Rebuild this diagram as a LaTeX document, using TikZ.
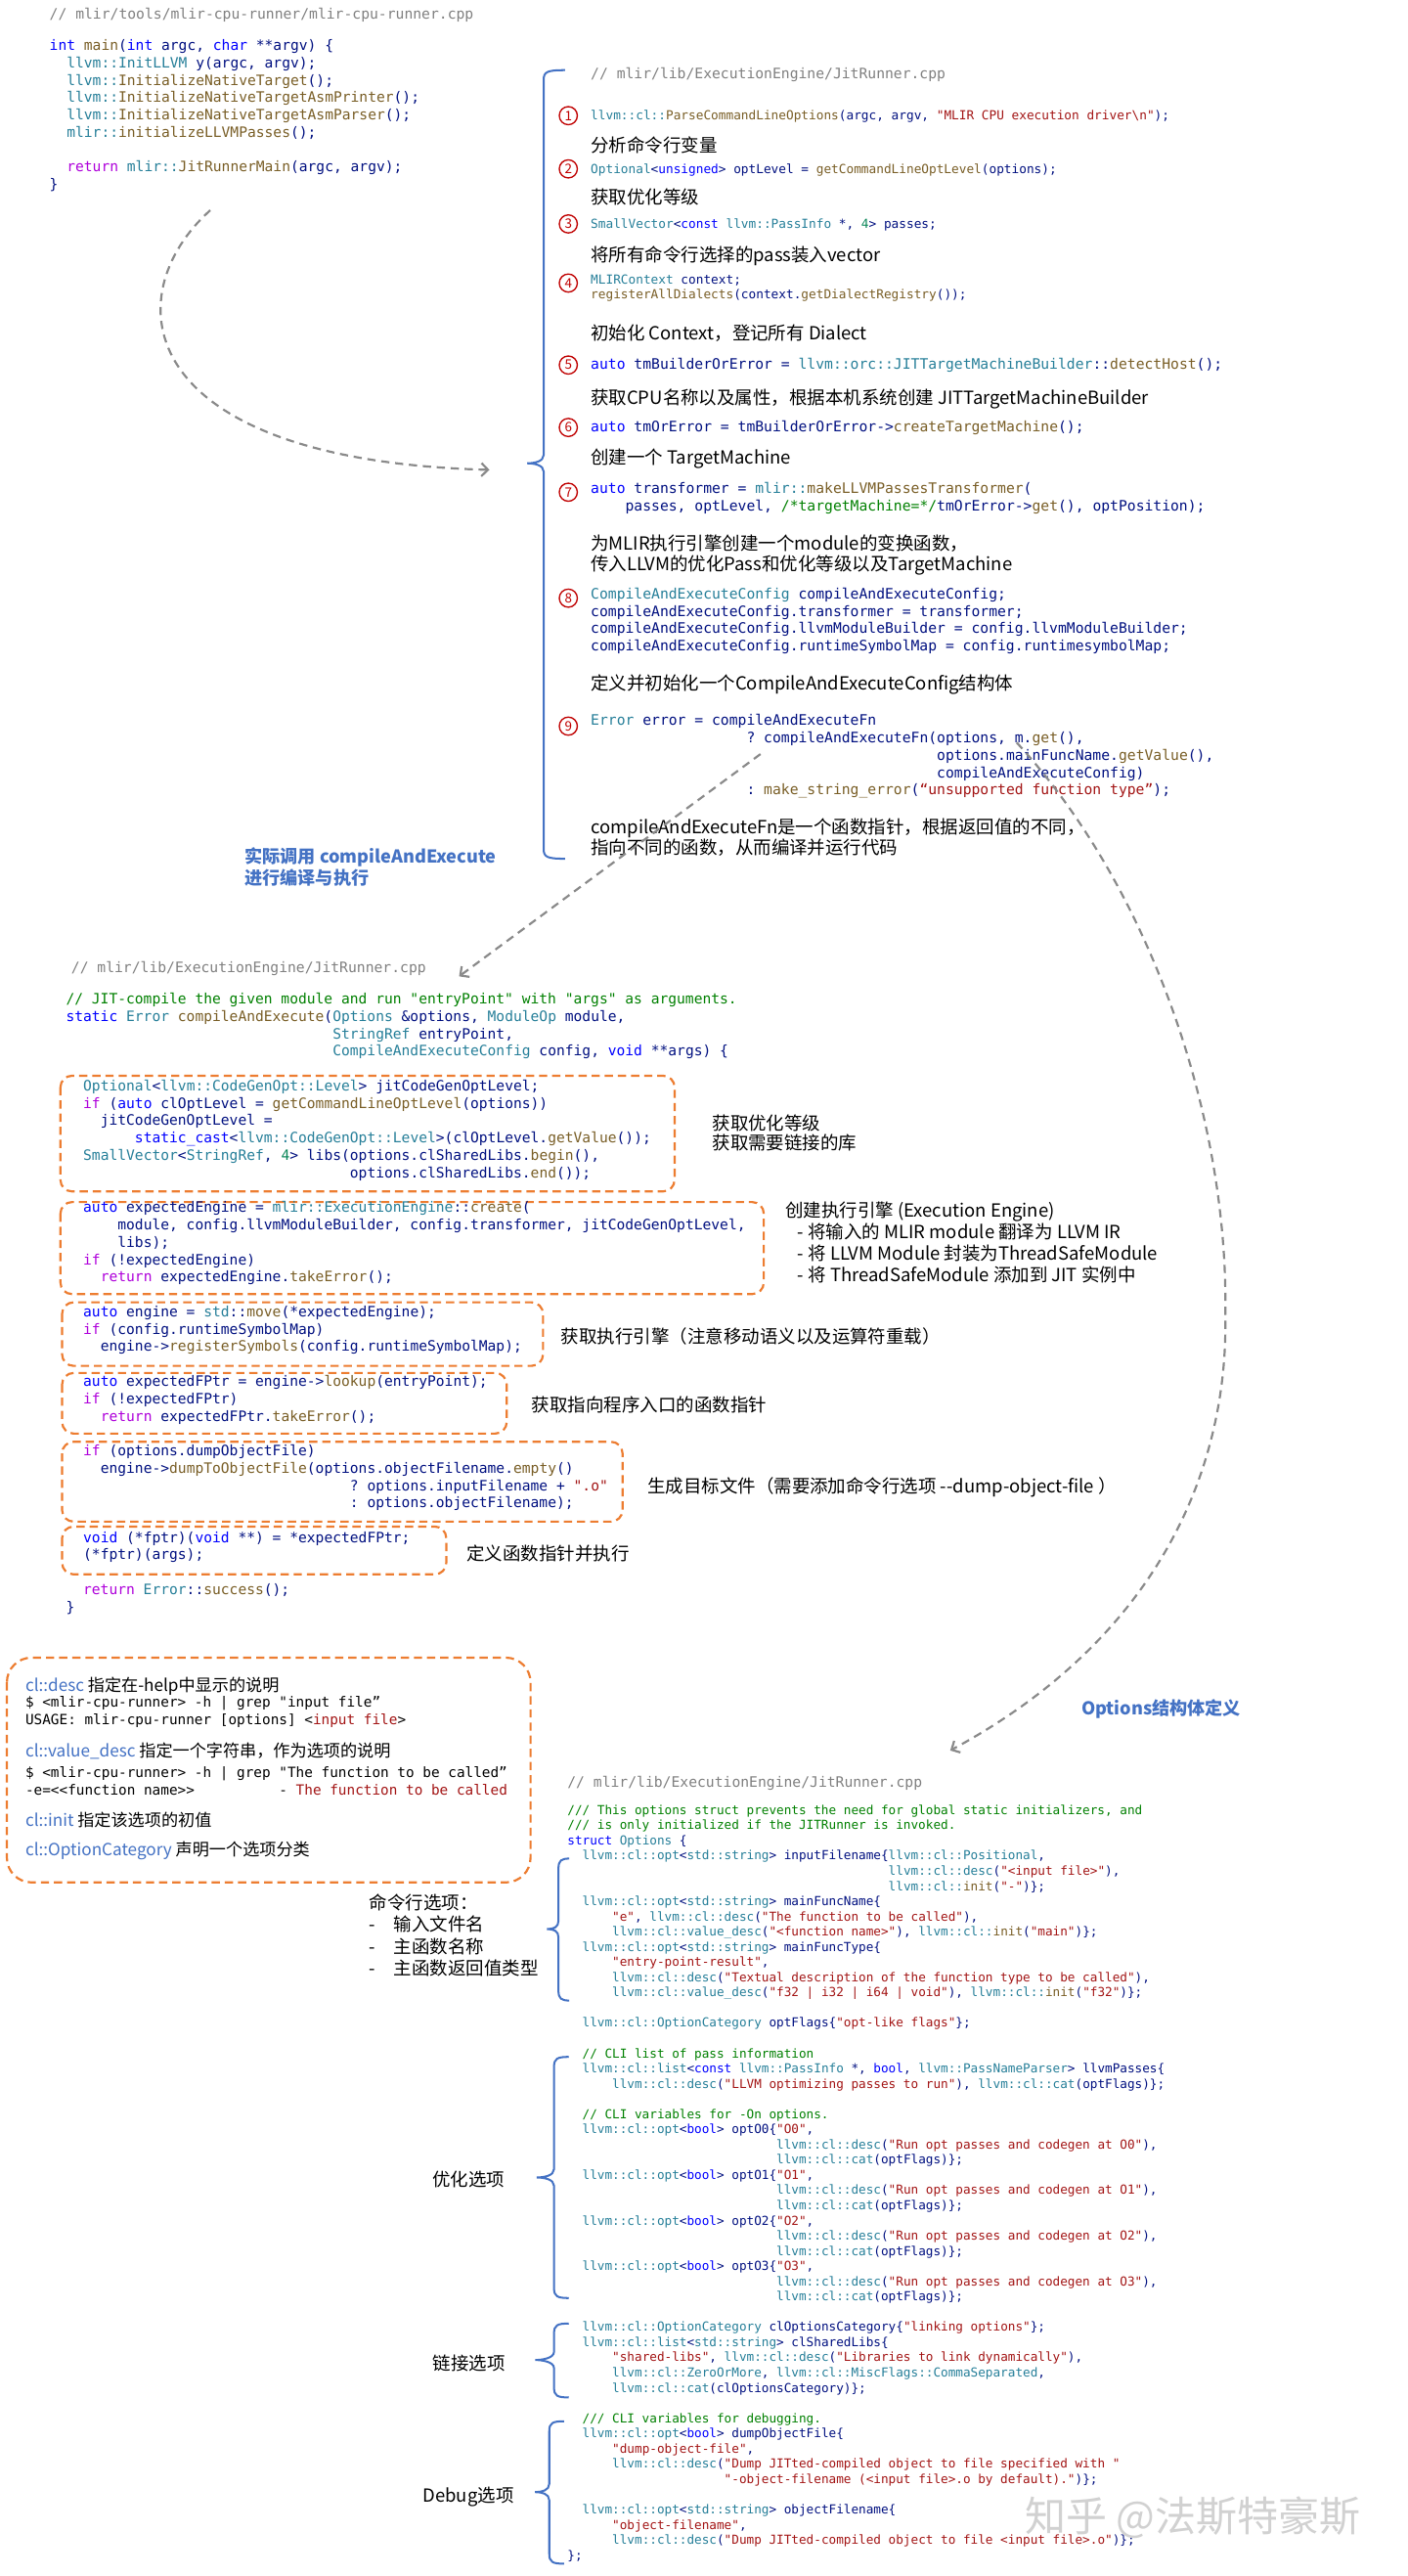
\documentclass[tikz,border=0pt]{standalone}
\usepackage{fontspec}
\setmonofont{DejaVu Sans Mono}
\newfontfamily\cjk{Noto Sans CJK SC}
\usepackage{xcolor}
\usetikzlibrary{arrows.meta,positioning}

% code palette
\definecolor{ckw}{HTML}{0000FF}
\definecolor{cctl}{HTML}{AF00DB}
\definecolor{ctyp}{HTML}{267F99}
\definecolor{cfun}{HTML}{795E26}
\definecolor{cvar}{HTML}{001080}
\definecolor{cstr}{HTML}{A31515}
\definecolor{ccom}{HTML}{008000}
\definecolor{cnum}{HTML}{098658}
\definecolor{hdrgray}{HTML}{808080}
\definecolor{noteblue}{HTML}{4472C4}
\definecolor{boxorange}{HTML}{ED7D31}
\definecolor{numred}{HTML}{C00000}
\definecolor{flowgray}{HTML}{8A8A8A}

\newcommand\ckw[1]{\textcolor{ckw}{#1}}
\newcommand\cctl[1]{\textcolor{cctl}{#1}}
\newcommand\ctyp[1]{\textcolor{ctyp}{#1}}
\newcommand\cfun[1]{\textcolor{cfun}{#1}}
\newcommand\cstr[1]{\textcolor{cstr}{#1}}
\newcommand\ccom[1]{\textcolor{ccom}{#1}}
\newcommand\cnum[1]{\textcolor{cnum}{#1}}
\newcommand\ind[1]{\hspace*{#1\fontcharwd\font`0}}
\newcommand\codefont[2]{\ttfamily\fontsize{#1}{#2}\selectfont}
\newcommand\notefont[2]{\cjk\fontsize{#1}{#2}\selectfont}

% left curly brace: x, top, middle, bottom, tip x, hook length
\newcommand\leftbrace[6]{%
  \draw[bracestyle] (#1+#6,#2) .. controls (#1+2,#2) and (#1,#2+1) .. (#1,#2+6)
    -- (#1,#3-5) .. controls (#1,#3-1) and (#5+4,#3) .. (#5,#3)
    .. controls (#5+4,#3) and (#1,#3+1) .. (#1,#3+5)
    -- (#1,#4-6) .. controls (#1,#4-1) and (#1+2,#4) .. (#1+#6,#4);}

\begin{document}
\begin{tikzpicture}[x=1pt, y=-1pt,
    codeline/.style={anchor=north west, inner sep=0pt, align=left, text=cvar, execute at begin node={\rule{0pt}{1em}}},
    codemain/.style={codeline, font=\codefont{8.7}{10.55}, yshift=8.7pt},
    codesmall/.style={codeline, font=\codefont{7.6}{9.3}, yshift=7.6pt},
    codebig/.style={codeline, font=\codefont{8.75}{10.6}, yshift=8.75pt},
    codeopt/.style={codeline, font=\codefont{7.55}{9.255}, yshift=7.55pt},
    shell/.style={codeline, text=black, font=\codefont{8.55}{10.3}, yshift=8.55pt},
    hdr/.style={anchor=base west, inner sep=0pt, text=hdrgray, font=\codefont{8.75}{10.5}},
    note/.style={anchor=north west, inner sep=0pt, align=left, font=\notefont{11}{12.5}, yshift=11pt, execute at begin node={\rule{0pt}{1em}}},
    clnote/.style={anchor=base west, inner sep=0pt, font=\notefont{10.2}{12}},
    bluenote/.style={note, text=noteblue, font=\notefont{10.8}{13}\bfseries, yshift=-0.2pt},
    numcirc/.style={circle, draw=numred, text=numred, line width=0.8pt, inner sep=0pt, minimum size=11pt, font=\notefont{8}{8}},
    codebox/.style={draw=boxorange, line width=1.3pt, dash pattern=on 5pt off 3pt, rounded corners=7pt},
    bracestyle/.style={draw=noteblue, line width=1.2pt},
    flow/.style={draw=flowgray, line width=1.3pt, dash pattern=on 5pt off 3.5pt, -{Straight Barb[length=4pt,width=8pt]}}
]
\fill[white] (0,0) rectangle (857,1568);
\useasboundingbox (0,0) rectangle (857,1568);

% mlir-cpu-runner main
\node[hdr] (hdrmain) at (30,11.7) {// mlir/tools/mlir-cpu-runner/mlir-cpu-runner.cpp};
\node[codemain] (mainsrc) at (30,32.6) {\ckw{int} \cfun{main}(\ckw{int} argc, \ckw{char} **argv) \{\\
\ind{2}\ctyp{llvm::InitLLVM} y(argc, argv);\\
\ind{2}\ctyp{llvm::}\cfun{InitializeNativeTarget}();\\
\ind{2}\ctyp{llvm::}\cfun{InitializeNativeTargetAsmPrinter}();\\
\ind{2}\ctyp{llvm::}\cfun{InitializeNativeTargetAsmParser}();\\
\ind{2}\ctyp{mlir::}\cfun{initializeLLVMPasses}();\\
~\\
\ind{2}\cctl{return} \ctyp{mlir::}\cfun{JitRunnerMain}(argc, argv);\\
\}};

% JitRunnerMain steps
\leftbrace{331}{42.7}{282}{522.7}{321}{13}
\node[hdr] (hdrrun) at (359.5,48) {// mlir/lib/ExecutionEngine/JitRunner.cpp};
\foreach \k/\yy in {1/70.4,2/102.8,3/136.3,4/172.3,5/222.2,6/260.2,7/299.6,8/364.1,9/442}
  \node[numcirc] (num\k) at (346,\yy) {\k};

\node[codesmall] (step1) at (359.5,72.8) {\ctyp{llvm::cl::}\cfun{ParseCommandLineOptions}(argc, argv, \cstr{"MLIR CPU execution driver\textbackslash n"});};
\node[note] (note1) at (359.5,92.3) {分析命令行变量};
\node[codesmall] (step2) at (359.5,105.2) {\ctyp{Optional}<\ckw{unsigned}> optLevel = \cfun{getCommandLineOptLevel}(options);};
\node[note] (note2) at (359.5,124) {获取优化等级};
\node[codesmall] (step3) at (359.5,138.7) {\ctyp{SmallVector}<\ckw{const} \ctyp{llvm::PassInfo} *, \cnum{4}> passes;};
\node[note] (note3) at (359.5,159.2) {将所有命令行选择的pass装入vector};
\node[codesmall] (step4) at (359.5,174.4) {\ctyp{MLIRContext} context;\\
\cfun{registerAllDialects}(context.\cfun{getDialectRegistry}());};
\node[note] (note4) at (359.5,206.4) {初始化 Context，登记所有 Dialect};
\node[codebig] (step5) at (359.5,224.6) {\ckw{auto} tmBuilderOrError = \ctyp{llvm::orc::JITTargetMachineBuilder}::\cfun{detectHost}();};
\node[note] (note5) at (359.5,245.7) {获取CPU名称以及属性，根据本机系统创建 JITTargetMachineBuilder};
\node[codebig] (step6) at (359.5,262.9) {\ckw{auto} tmOrError = tmBuilderOrError->\cfun{createTargetMachine}();};
\node[note] (note6) at (359.5,282.2) {创建一个 TargetMachine};
\node[codebig] (step7) at (359.5,302) {\ckw{auto} transformer = \ctyp{mlir::}\cfun{makeLLVMPassesTransformer}(\\
\ind{4}passes, optLevel, \ccom{/*targetMachine=*/}tmOrError->\cfun{get}(), optPosition);};
\node[note] (note7) at (359.5,336.3) {为MLIR执行引擎创建一个module的变换函数，\\
传入LLVM的优化Pass和优化等级以及TargetMachine};
\node[codebig] (step8) at (359.5,366.4) {\ctyp{CompileAndExecuteConfig} compileAndExecuteConfig;\\
compileAndExecuteConfig.transformer = transformer;\\
compileAndExecuteConfig.llvmModuleBuilder = config.llvmModuleBuilder;\\
compileAndExecuteConfig.runtimeSymbolMap = config.runtimesymbolMap;};
\node[note] (note8) at (359.5,419.7) {定义并初始化一个CompileAndExecuteConfig结构体};
\node[codebig] (step9) at (359.5,443.4) {\ctyp{Error} error = compileAndExecuteFn\\
\ind{18}? compileAndExecuteFn(options, m.\cfun{get}(),\\
\ind{40}options.mainFuncName.\cfun{getValue}(),\\
\ind{40}compileAndExecuteConfig)\\
\ind{18}: \cfun{make\_string\_error}(\cstr{“unsupported function type”});};
\node[note] (note9) at (359.5,509) {compileAndExecuteFn是一个函数指针，根据返回值的不同，\\
指向不同的函数，从而编译并运行代码};

\node[bluenote] (callnote) at (148.8,526.8) {实际调用 compileAndExecute\\
进行编译与执行};

% compileAndExecute
\node[hdr] (hdrjit) at (43.2,592.1) {// mlir/lib/ExecutionEngine/JitRunner.cpp};
\node[codemain] (jitsig) at (40,613.1) {\ccom{// JIT-compile the given module and run "entryPoint" with "args" as arguments.}\\
\ckw{static} \ctyp{Error} \cfun{compileAndExecute}(\ctyp{Options} \&options, \ctyp{ModuleOp} module,\\
\ind{31}\ctyp{StringRef} entryPoint,\\
\ind{31}\ctyp{CompileAndExecuteConfig} config, \ckw{void} **args) \{};

\draw[codebox] (36.8,654.8) rectangle (410.7,725.2);
\node[codemain] (jitopt) at (50.5,665.9) {\ctyp{Optional}<\ctyp{llvm::CodeGenOpt::Level}> jitCodeGenOptLevel;\\
\cctl{if} (\ckw{auto} clOptLevel = \cfun{getCommandLineOptLevel}(options))\\
\ind{2}jitCodeGenOptLevel =\\
\ind{6}\ckw{static\_cast}<\ctyp{llvm::CodeGenOpt::Level}>(clOptLevel.\cfun{getValue}());\\
\ctyp{SmallVector}<\ctyp{StringRef}, \cnum{4}> libs(options.clSharedLibs.\cfun{begin}(),\\
\ind{31}options.clSharedLibs.\cfun{end}());};
\node[note, font=\notefont{11}{12}] (noteopt) at (433.5,689.5) {获取优化等级\\
获取需要链接的库};

\draw[codebox] (36.8,731.7) rectangle (465,787.7);
\node[codemain] (jiteng) at (50.5,739.9) {\ckw{auto} expectedEngine = \ctyp{mlir::ExecutionEngine}::\cfun{create}(\\
\ind{4}module, config.llvmModuleBuilder, config.transformer, jitCodeGenOptLevel,\\
\ind{4}libs);\\
\cctl{if} (!expectedEngine)\\
\ind{2}\cctl{return} expectedEngine.\cfun{takeError}();};
\node[note, font=\notefont{11}{13.2}] (noteeng) at (478,742.1) {创建执行引擎 (Execution Engine)\\
\hspace*{7.5pt}- 将输入的 MLIR module 翻译为 LLVM IR\\
\hspace*{7.5pt}- 将 LLVM Module 封装为ThreadSafeModule\\
\hspace*{7.5pt}- 将 ThreadSafeModule 添加到 JIT 实例中};

\draw[codebox] (37.8,792.7) rectangle (330.6,831.4);
\node[codemain] (jitmove) at (50.5,803.4) {\ckw{auto} engine = \ctyp{std}::\cfun{move}(*expectedEngine);\\
\cctl{if} (config.runtimeSymbolMap)\\
\ind{2}engine->\cfun{registerSymbols}(config.runtimeSymbolMap);};
\node[note] (notemove) at (341.4,817.5) {获取执行引擎（注意移动语义以及运算符重载）};

\draw[codebox] (37.8,835.7) rectangle (308.5,872.6);
\node[codemain] (jitfptr) at (50.5,845.7) {\ckw{auto} expectedFPtr = engine->\cfun{lookup}(entryPoint);\\
\cctl{if} (!expectedFPtr)\\
\ind{2}\cctl{return} expectedFPtr.\cfun{takeError}();};
\node[note] (notefptr) at (323.5,859.2) {获取指向程序入口的函数指针};

\draw[codebox] (37.8,877.6) rectangle (379,926.2);
\node[codemain] (jitdump) at (50.5,888.1) {\cctl{if} (options.dumpObjectFile)\\
\ind{2}engine->\cfun{dumpToObjectFile}(options.objectFilename.\cfun{empty}()\\
\ind{31}? options.inputFilename + \cstr{".o"}\\
\ind{31}: options.objectFilename);};
\node[note] (notedump) at (394,908.4) {生成目标文件（需要添加命令行选项 \mbox{-}\mbox{-}dump-object-file ）};

\draw[codebox] (37.8,929.2) rectangle (271.7,958.3);
\node[codemain] (jitcall) at (50.5,940.7) {\ckw{void} (*fptr)(\ckw{void} **) = *expectedFPtr;\\
(*fptr)(args);};
\node[note] (notecall) at (284,949.4) {定义函数指针并执行};
\node[codemain] (jitret) at (40,972.6) {\ind{2}\cctl{return} \ctyp{Error}::\cfun{success}();\\
\}};

% cl:: option attributes
\draw[codebox, rounded corners=15pt] (4.2,1009) rectangle (323,1145.8);
\node[clnote] (cldesc) at (15.3,1029.5) {\textcolor{noteblue}{cl::desc} 指定在-help中显示的说明};
\node[shell] (shdesc) at (15.3,1041) {\$ <mlir-cpu-runner> -h | grep "input file”\\
USAGE: mlir-cpu-runner [options] <\textcolor{cstr}{input file}>};
\node[clnote] (clvdesc) at (15.3,1069.2) {\textcolor{noteblue}{cl::value\_desc} 指定一个字符串，作为选项的说明};
\node[shell] (shvdesc) at (15.3,1084) {\$ <mlir-cpu-runner> -h | grep "The function to be called”\\
-e=<<function name>>\ind{10}- \textcolor{cstr}{The function to be called}};
\node[clnote] (clinit) at (15.3,1111.8) {\textcolor{noteblue}{cl::init} 指定该选项的初值};
\node[clnote] (clcat) at (15.3,1129.3) {\textcolor{noteblue}{cl::OptionCategory} 声明一个选项分类};

% Options struct
\node[bluenote] (optsnote) at (658.2,1043.7) {Options结构体定义};
\node[hdr] (hdropts) at (345.3,1088.1) {// mlir/lib/ExecutionEngine/JitRunner.cpp};
\node[codeopt] (optsrc) at (345.3,1106) {\ccom{/// This options struct prevents the need for global static initializers, and}\\
\ccom{/// is only initialized if the JITRunner is invoked.}\\
\ckw{struct} \ctyp{Options} \{\\
\ind{2}\ctyp{llvm::cl::opt}<\ctyp{std::string}> inputFilename\{\ctyp{llvm::cl::Positional},\\
\ind{43}\ctyp{llvm::cl::desc}(\cstr{"<input file>"}),\\
\ind{43}\ctyp{llvm::cl::}\cfun{init}(\cstr{"-"})\};\\
\ind{2}\ctyp{llvm::cl::opt}<\ctyp{std::string}> mainFuncName\{\\
\ind{6}\cstr{"e"}, \ctyp{llvm::cl::desc}(\cstr{"The function to be called"}),\\
\ind{6}\ctyp{llvm::cl::value\_desc}(\cstr{"<function name>"}), \ctyp{llvm::cl::}\cfun{init}(\cstr{"main"})\};\\
\ind{2}\ctyp{llvm::cl::opt}<\ctyp{std::string}> mainFuncType\{\\
\ind{6}\cstr{"entry-point-result"},\\
\ind{6}\ctyp{llvm::cl::desc}(\cstr{"Textual description of the function type to be called"}),\\
\ind{6}\ctyp{llvm::cl::value\_desc}(\cstr{"f32 | i32 | i64 | void"}), \ctyp{llvm::cl::}\cfun{init}(\cstr{"f32"})\};\\
~\\
\ind{2}\ctyp{llvm::cl::OptionCategory} optFlags\{\cstr{"opt-like flags"}\};\\
~\\
\ind{2}\ccom{// CLI list of pass information}\\
\ind{2}\ctyp{llvm::cl::list}<\ckw{const} \ctyp{llvm::PassInfo} *, \ckw{bool}, \ctyp{llvm::PassNameParser}> llvmPasses\{\\
\ind{6}\ctyp{llvm::cl::desc}(\cstr{"LLVM optimizing passes to run"}), \ctyp{llvm::cl::cat}(optFlags)\};\\
~\\
\ind{2}\ccom{// CLI variables for -On options.}\\
\ind{2}\ctyp{llvm::cl::opt}<\ckw{bool}> optO0\{\cstr{"O0"},\\
\ind{28}\ctyp{llvm::cl::desc}(\cstr{"Run opt passes and codegen at O0"}),\\
\ind{28}\ctyp{llvm::cl::cat}(optFlags)\};\\
\ind{2}\ctyp{llvm::cl::opt}<\ckw{bool}> optO1\{\cstr{"O1"},\\
\ind{28}\ctyp{llvm::cl::desc}(\cstr{"Run opt passes and codegen at O1"}),\\
\ind{28}\ctyp{llvm::cl::cat}(optFlags)\};\\
\ind{2}\ctyp{llvm::cl::opt}<\ckw{bool}> optO2\{\cstr{"O2"},\\
\ind{28}\ctyp{llvm::cl::desc}(\cstr{"Run opt passes and codegen at O2"}),\\
\ind{28}\ctyp{llvm::cl::cat}(optFlags)\};\\
\ind{2}\ctyp{llvm::cl::opt}<\ckw{bool}> optO3\{\cstr{"O3"},\\
\ind{28}\ctyp{llvm::cl::desc}(\cstr{"Run opt passes and codegen at O3"}),\\
\ind{28}\ctyp{llvm::cl::cat}(optFlags)\};\\
~\\
\ind{2}\ctyp{llvm::cl::OptionCategory} clOptionsCategory\{\cstr{"linking options"}\};\\
\ind{2}\ctyp{llvm::cl::list}<\ctyp{std::string}> clSharedLibs\{\\
\ind{6}\cstr{"shared-libs"}, \ctyp{llvm::cl::desc}(\cstr{"Libraries to link dynamically"}),\\
\ind{6}\ctyp{llvm::cl::ZeroOrMore}, \ctyp{llvm::cl::MiscFlags::CommaSeparated},\\
\ind{6}\ctyp{llvm::cl::cat}(clOptionsCategory)\};\\
~\\
\ind{2}\ccom{/// CLI variables for debugging.}\\
\ind{2}\ctyp{llvm::cl::opt}<\ckw{bool}> dumpObjectFile\{\\
\ind{6}\cstr{"dump-object-file"},\\
\ind{6}\ctyp{llvm::cl::desc}(\cstr{"Dump JITted-compiled object to file specified with "}\\
\ind{21}\cstr{"-object-filename (<input file>.o by default)."})\};\\
~\\
\ind{2}\ctyp{llvm::cl::opt}<\ctyp{std::string}> objectFilename\{\\
\ind{6}\cstr{"object-filename"},\\
\ind{6}\ctyp{llvm::cl::desc}(\cstr{"Dump JITted-compiled object to file <input file>.o"})\};\\
\};};

\leftbrace{340}{1131.3}{1174.2}{1217.7}{333}{6.5}
\leftbrace{337.3}{1252}{1325.4}{1398.8}{326.8}{9}
\leftbrace{337.3}{1414.3}{1436.5}{1459.3}{325.8}{9}
\leftbrace{334.4}{1473.8}{1516.9}{1560.5}{325.8}{9}

\node[note, font=\notefont{11}{13.4}] (notecli) at (224.8,1163.7) {命令行选项：\\
\makebox[14.7pt][l]{-}输入文件名\\
\makebox[14.7pt][l]{-}主函数名称\\
\makebox[14.7pt][l]{-}主函数返回值类型};
\node[note] (notepass) at (263.2,1330.8) {优化选项};
\node[note] (notelink) at (263.5,1442.5) {链接选项};
\node[note] (notedbg) at (257.3,1522.9) {Debug选项};

\node[anchor=base west, inner sep=0pt, text=black!18, font=\notefont{25}{25}] (mark) at (624,1541) {知乎 @法斯特豪斯};

% dashed flow arrows
\coordinate (mainout) at (128,128);
\coordinate (runin) at (298,286);
\coordinate (callout) at (463,459);
\coordinate (jitin) at (279.5,594.3);
\coordinate (optout) at (619,452);
\coordinate (optmid) at (746,800);
\coordinate (optin) at (578.5,1065.5);
\draw[flow] (mainout) .. controls (70,180) and (80,280) .. (runin);
\draw[flow] (callout) -- (jitin);
\draw[flow] (optout) .. controls (700,540) and (748,680) .. (optmid) .. controls (748,900) and (700,1000) .. (optin);
\end{tikzpicture}
\end{document}
